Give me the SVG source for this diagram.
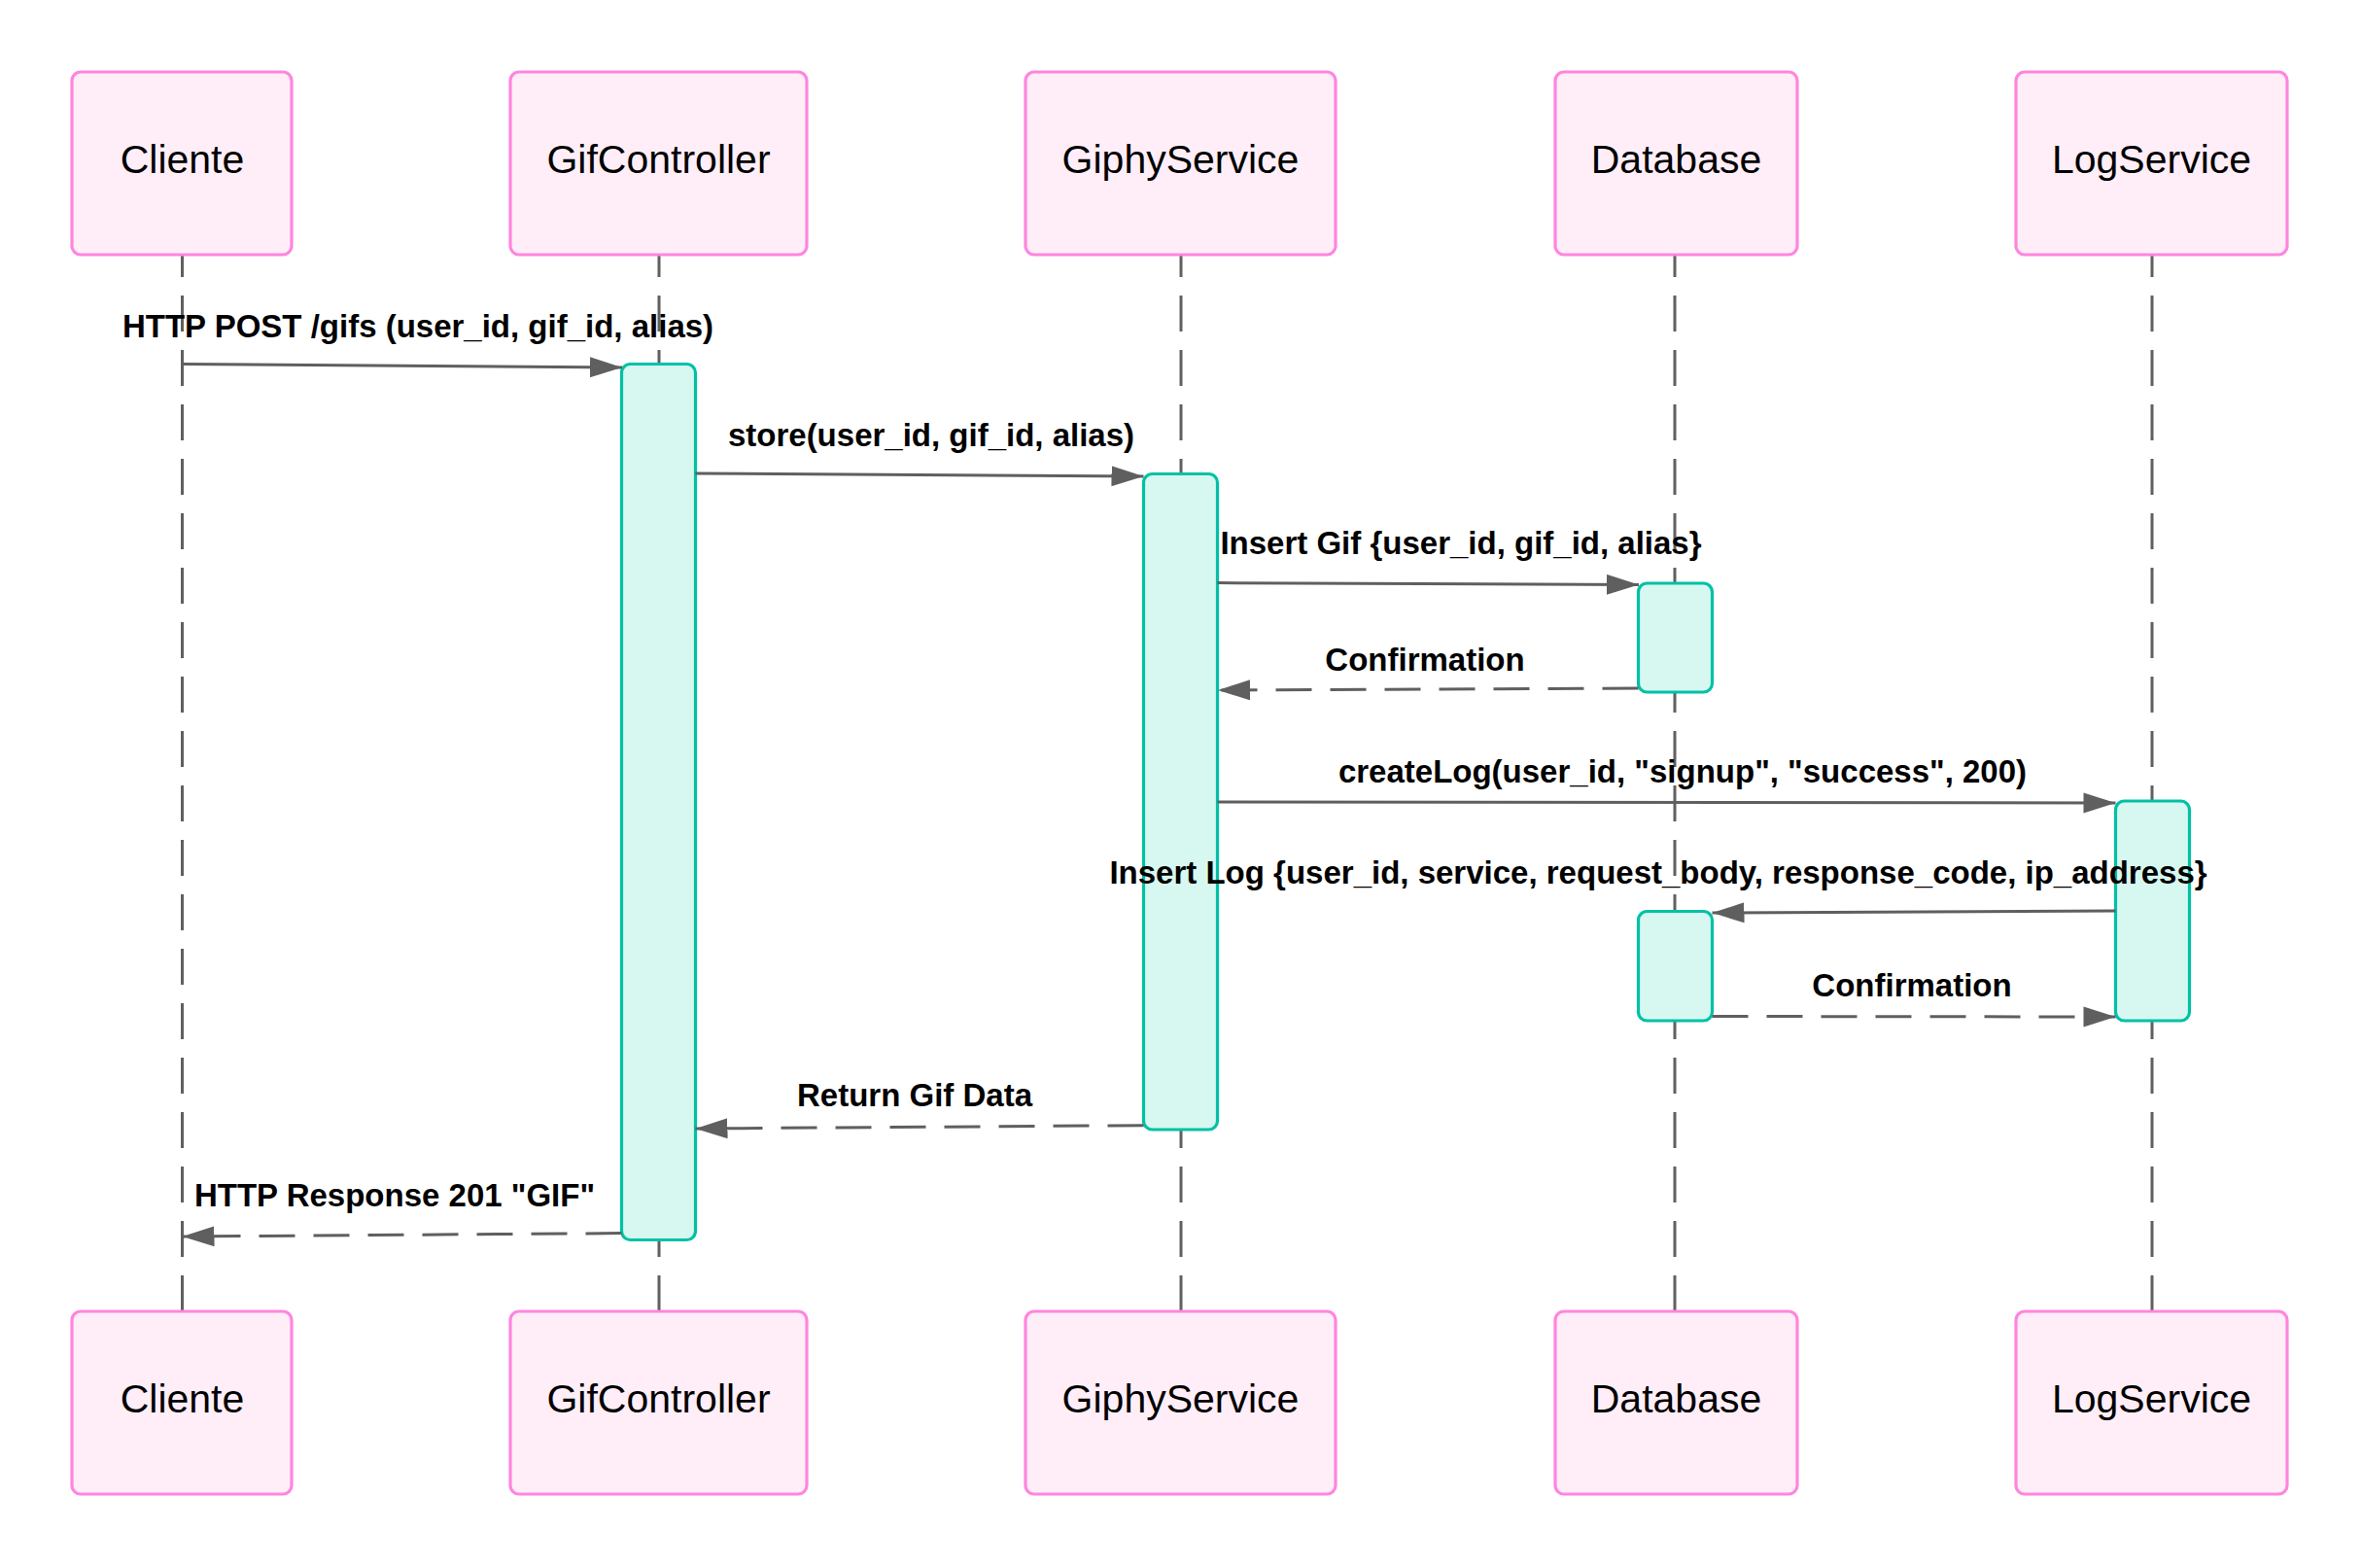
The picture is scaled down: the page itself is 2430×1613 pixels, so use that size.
<svg xmlns="http://www.w3.org/2000/svg" width="2430" height="1613" viewBox="0 0 2430 1613">
<style>
.actor rect{fill:#ffeef8;stroke:#ff85de;stroke-width:3.2}
.actor text{font-family:"Liberation Sans",Arial,sans-serif;font-size:41px;fill:#000;text-anchor:middle}
.life{stroke:#606060;stroke-width:3;stroke-dasharray:37 19;stroke-dashoffset:14;fill:none}
.act{fill:#d6f8f0;stroke:#00c1a6;stroke-width:3.2}
.msg{stroke:#5f5f5f;stroke-width:3;fill:none;marker-end:url(#ah)}
.dash{stroke-dasharray:37 19}
.lbl{font-family:"Liberation Sans",Arial,sans-serif;font-size:33px;font-weight:bold;fill:#000;text-anchor:middle}
</style>
<defs>
<marker id="ah" markerUnits="userSpaceOnUse" markerWidth="34" markerHeight="22" refX="33" refY="10.5" orient="auto">
<path d="M0,0 L33,10.5 L0,21 z" fill="#5f5f5f"/>
</marker>
</defs>
<rect width="2430" height="1613" fill="#ffffff"/>
<g id="lifelines">
<line class="life" x1="187.5" y1="262" x2="187.5" y2="1349"/>
<line class="life" x1="678" y1="262" x2="678" y2="1349"/>
<line class="life" x1="1215" y1="262" x2="1215" y2="1349"/>
<line class="life" x1="1723" y1="262" x2="1723" y2="1349"/>
<line class="life" x1="2214" y1="262" x2="2214" y2="1349"/>
</g>
<g id="actor-Cliente" class="actor">
<rect x="74" y="74" width="226" height="188" rx="9"/><text x="187.5" y="178">Cliente</text>
<rect x="74" y="1349" width="226" height="188" rx="9"/><text x="187.5" y="1453">Cliente</text>
</g>
<g id="actor-GifController" class="actor">
<rect x="525" y="74" width="305" height="188" rx="9"/><text x="677.5" y="178">GifController</text>
<rect x="525" y="1349" width="305" height="188" rx="9"/><text x="677.5" y="1453">GifController</text>
</g>
<g id="actor-GiphyService" class="actor">
<rect x="1055" y="74" width="319" height="188" rx="9"/><text x="1214.5" y="178">GiphyService</text>
<rect x="1055" y="1349" width="319" height="188" rx="9"/><text x="1214.5" y="1453">GiphyService</text>
</g>
<g id="actor-Database" class="actor">
<rect x="1600" y="74" width="249" height="188" rx="9"/><text x="1724.5" y="178">Database</text>
<rect x="1600" y="1349" width="249" height="188" rx="9"/><text x="1724.5" y="1453">Database</text>
</g>
<g id="actor-LogService" class="actor">
<rect x="2074" y="74" width="279" height="188" rx="9"/><text x="2213.5" y="178">LogService</text>
<rect x="2074" y="1349" width="279" height="188" rx="9"/><text x="2213.5" y="1453">LogService</text>
</g>
<g id="activations">
<rect id="act-GifController" class="act" x="639.5" y="374.5" width="76" height="901" rx="9"/>
<rect id="act-GiphyService" class="act" x="1176.5" y="487.5" width="76" height="674.5" rx="9"/>
<rect id="act-Database-1" class="act" x="1685.5" y="600" width="76" height="112" rx="9"/>
<rect id="act-LogService" class="act" x="2176.5" y="824" width="76" height="226" rx="9"/>
<rect id="act-Database-2" class="act" x="1685.5" y="937.5" width="76" height="112.5" rx="9"/>
</g>
<g id="connectors">
<path class="msg" d="M187.5,374.5 L640,378"/>
<path class="msg" d="M715.5,487 L1176.5,490"/>
<path class="msg" d="M1252.5,599.6 L1686,601.5"/>
<path class="msg dash" d="M1685.5,708 L1253,710"/>
<path class="msg" d="M1252.5,825 L2176.5,826"/>
<path class="msg" d="M2176.5,937 L1761.5,939"/>
<path class="msg dash" d="M1761.5,1045.5 L2176.5,1046"/>
<path class="msg dash" d="M1176.5,1157.7 L715.5,1161"/>
<path class="msg dash" d="M639.5,1268.6 L187.5,1272"/>
</g>
<g id="labels">
<text class="lbl" x="430" y="347">HTTP POST /gifs (user_id, gif_id, alias)</text>
<text class="lbl" x="958" y="459">store(user_id, gif_id, alias)</text>
<text class="lbl" x="1503" y="570">Insert Gif {user_id, gif_id, alias}</text>
<text class="lbl" x="1466" y="689.5">Confirmation</text>
<text class="lbl" x="1731" y="805">createLog(user_id, "signup", "success", 200)</text>
<text class="lbl" x="1706" y="909">Insert Log {user_id, service, request_body, response_code, ip_address}</text>
<text class="lbl" x="1967" y="1025">Confirmation</text>
<text class="lbl" x="941" y="1138">Return Gif Data</text>
<text class="lbl" x="406" y="1240.5">HTTP Response 201 "GIF"</text>
</g>
</svg>
